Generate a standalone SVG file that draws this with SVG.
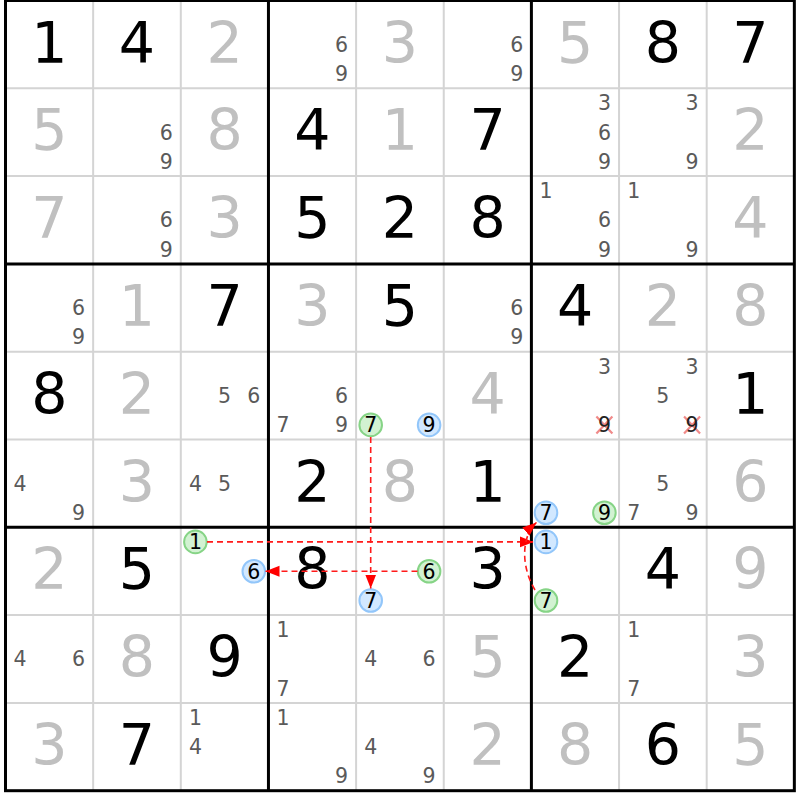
<svg xmlns="http://www.w3.org/2000/svg" width="800" height="800" viewBox="0 0 800 800">
<style>
.thin{stroke:#d4d4d4;stroke-width:2;fill:none}
.thick{stroke:#000;stroke-width:3;fill:none}
.big{font-family:"DejaVu Sans","Liberation Sans",sans-serif;font-size:57px;text-anchor:middle}
.given{fill:#000}
.solved{fill:#c0c0c0}
.cand{font-family:"DejaVu Sans","Liberation Sans",sans-serif;font-size:20.5px;text-anchor:middle;fill:#5a5a5a}
.mark{fill:#000}
.dark{fill:#222}
.cg{fill:#d2f2d2;stroke:#86d486;stroke-width:2}
.cb{fill:#d2e8ff;stroke:#92c6fa;stroke-width:2}
.x{stroke:#f08a8a;stroke-width:2.2}
.link{stroke:#ff1a1a;stroke-width:1.6;stroke-dasharray:6,4;fill:none;marker-end:url(#ah)}
</style>
<defs>
<marker id="ah" markerUnits="userSpaceOnUse" markerWidth="16" markerHeight="12" refX="14" refY="5.5" orient="auto">
<path d="M0,0 L14,5.5 L0,11 z" fill="#ff0000"/>
</marker>
</defs>
<rect x="0" y="0" width="800" height="800" fill="#fff"/>
<g id="grid">
<path class="thin" d="M93.15,0.5V790.7M180.8,0.5V790.7M356.1,0.5V790.7M443.75,0.5V790.7M619.05,0.5V790.7M706.7,0.5V790.7M5.5,88.3H794.35M5.5,176.1H794.35M5.5,351.7H794.35M5.5,439.5H794.35M5.5,615.1H794.35M5.5,702.9H794.35"/>
<path class="thick" d="M268.45,0.5V790.7M531.4,0.5V790.7M5.5,263.9H794.35M5.5,527.3H794.35"/>
<rect class="thick" x="5.5" y="0.5" width="788.85" height="790.2"/>
</g>
<g id="r0">
<g id="r0c0"><text class="big given" x="49.3" y="62.5">1</text></g>
<g id="r0c1"><text class="big given" x="137" y="62.5">4</text></g>
<g id="r0c2"><text class="big solved" x="224.6" y="62.5">2</text></g>
<g id="r0c3"><text class="cand" x="341.45" y="51.7">6</text><text class="cand" x="341.45" y="81">9</text></g>
<g id="r0c4"><text class="big solved" x="399.9" y="62.5">3</text></g>
<g id="r0c5"><text class="cand" x="516.75" y="51.7">6</text><text class="cand" x="516.75" y="81">9</text></g>
<g id="r0c6"><text class="big solved" x="575.2" y="62.5">5</text></g>
<g id="r0c7"><text class="big given" x="662.9" y="62.5">8</text></g>
<g id="r0c8"><text class="big given" x="750.5" y="62.5">7</text></g>
</g>
<g id="r1">
<g id="r1c0"><text class="big solved" x="49.3" y="150.3">5</text></g>
<g id="r1c1"><text class="cand" x="166.15" y="139.5">6</text><text class="cand" x="166.15" y="168.8">9</text></g>
<g id="r1c2"><text class="big solved" x="224.6" y="150.3">8</text></g>
<g id="r1c3"><text class="big given" x="312.3" y="150.3">4</text></g>
<g id="r1c4"><text class="big solved" x="399.9" y="150.3">1</text></g>
<g id="r1c5"><text class="big given" x="487.6" y="150.3">7</text></g>
<g id="r1c6"><text class="cand" x="604.4" y="110.2">3</text><text class="cand" x="604.4" y="139.5">6</text><text class="cand" x="604.4" y="168.8">9</text></g>
<g id="r1c7"><text class="cand" x="692.05" y="110.2">3</text><text class="cand" x="692.05" y="168.8">9</text></g>
<g id="r1c8"><text class="big solved" x="750.5" y="150.3">2</text></g>
</g>
<g id="r2">
<g id="r2c0"><text class="big solved" x="49.3" y="238.1">7</text></g>
<g id="r2c1"><text class="cand" x="166.15" y="227.3">6</text><text class="cand" x="166.15" y="256.6">9</text></g>
<g id="r2c2"><text class="big solved" x="224.6" y="238.1">3</text></g>
<g id="r2c3"><text class="big given" x="312.3" y="238.1">5</text></g>
<g id="r2c4"><text class="big given" x="399.9" y="238.1">2</text></g>
<g id="r2c5"><text class="big given" x="487.6" y="238.1">8</text></g>
<g id="r2c6"><text class="cand" x="546" y="198">1</text><text class="cand" x="604.4" y="227.3">6</text><text class="cand" x="604.4" y="256.6">9</text></g>
<g id="r2c7"><text class="cand" x="633.65" y="198">1</text><text class="cand" x="692.05" y="256.6">9</text></g>
<g id="r2c8"><text class="big solved" x="750.5" y="238.1">4</text></g>
</g>
<g id="r3">
<g id="r3c0"><text class="cand" x="78.5" y="315.1">6</text><text class="cand" x="78.5" y="344.4">9</text></g>
<g id="r3c1"><text class="big solved" x="137" y="325.9">1</text></g>
<g id="r3c2"><text class="big given" x="224.6" y="325.9">7</text></g>
<g id="r3c3"><text class="big solved" x="312.3" y="325.9">3</text></g>
<g id="r3c4"><text class="big given" x="399.9" y="325.9">5</text></g>
<g id="r3c5"><text class="cand" x="516.75" y="315.1">6</text><text class="cand" x="516.75" y="344.4">9</text></g>
<g id="r3c6"><text class="big given" x="575.2" y="325.9">4</text></g>
<g id="r3c7"><text class="big solved" x="662.9" y="325.9">2</text></g>
<g id="r3c8"><text class="big solved" x="750.5" y="325.9">8</text></g>
</g>
<g id="r4">
<g id="r4c0"><text class="big given" x="49.3" y="413.7">8</text></g>
<g id="r4c1"><text class="big solved" x="137" y="413.7">2</text></g>
<g id="r4c2"><text class="cand" x="224.6" y="402.9">5</text><text class="cand" x="253.8" y="402.9">6</text></g>
<g id="r4c3"><text class="cand" x="341.45" y="402.9">6</text><text class="cand" x="283.05" y="432.2">7</text><text class="cand" x="341.45" y="432.2">9</text></g>
<g id="r4c4"><circle class="cg" cx="370.7" cy="424.9" r="11.3"/><text class="cand mark" x="370.7" y="432.2">7</text><circle class="cb" cx="429.1" cy="424.9" r="11.3"/><text class="cand mark" x="429.1" y="432.2">9</text></g>
<g id="r4c5"><text class="big solved" x="487.6" y="413.7">4</text></g>
<g id="r4c6"><text class="cand" x="604.4" y="373.6">3</text><path class="x" d="M596.4,416.4L612.4,433.4M612.4,416.4L596.4,433.4"/><text class="cand dark" x="604.4" y="432.2">9</text></g>
<g id="r4c7"><text class="cand" x="692.05" y="373.6">3</text><text class="cand" x="662.85" y="402.9">5</text><path class="x" d="M684.05,416.4L700.05,433.4M700.05,416.4L684.05,433.4"/><text class="cand dark" x="692.05" y="432.2">9</text></g>
<g id="r4c8"><text class="big given" x="750.5" y="413.7">1</text></g>
</g>
<g id="r5">
<g id="r5c0"><text class="cand" x="20.1" y="490.7">4</text><text class="cand" x="78.5" y="520">9</text></g>
<g id="r5c1"><text class="big solved" x="137" y="501.5">3</text></g>
<g id="r5c2"><text class="cand" x="195.4" y="490.7">4</text><text class="cand" x="224.6" y="490.7">5</text></g>
<g id="r5c3"><text class="big given" x="312.3" y="501.5">2</text></g>
<g id="r5c4"><text class="big solved" x="399.9" y="501.5">8</text></g>
<g id="r5c5"><text class="big given" x="487.6" y="501.5">1</text></g>
<g id="r5c6"><circle class="cb" cx="546" cy="512.7" r="11.3"/><text class="cand mark" x="546" y="520">7</text><circle class="cg" cx="604.4" cy="512.7" r="11.3"/><text class="cand mark" x="604.4" y="520">9</text></g>
<g id="r5c7"><text class="cand" x="662.85" y="490.7">5</text><text class="cand" x="633.65" y="520">7</text><text class="cand" x="692.05" y="520">9</text></g>
<g id="r5c8"><text class="big solved" x="750.5" y="501.5">6</text></g>
</g>
<g id="r6">
<g id="r6c0"><text class="big solved" x="49.3" y="589.3">2</text></g>
<g id="r6c1"><text class="big given" x="137" y="589.3">5</text></g>
<g id="r6c2"><circle class="cg" cx="195.4" cy="541.9" r="11.3"/><text class="cand mark" x="195.4" y="549.2">1</text><circle class="cb" cx="253.8" cy="571.2" r="11.3"/><text class="cand mark" x="253.8" y="578.5">6</text></g>
<g id="r6c3"><text class="big given" x="312.3" y="589.3">8</text></g>
<g id="r6c4"><circle class="cg" cx="429.1" cy="571.2" r="11.3"/><text class="cand mark" x="429.1" y="578.5">6</text><circle class="cb" cx="370.7" cy="600.5" r="11.3"/><text class="cand mark" x="370.7" y="607.8">7</text></g>
<g id="r6c5"><text class="big given" x="487.6" y="589.3">3</text></g>
<g id="r6c6"><circle class="cb" cx="546" cy="541.9" r="11.3"/><text class="cand mark" x="546" y="549.2">1</text><circle class="cg" cx="546" cy="600.5" r="11.3"/><text class="cand mark" x="546" y="607.8">7</text></g>
<g id="r6c7"><text class="big given" x="662.9" y="589.3">4</text></g>
<g id="r6c8"><text class="big solved" x="750.5" y="589.3">9</text></g>
</g>
<g id="r7">
<g id="r7c0"><text class="cand" x="20.1" y="666.3">4</text><text class="cand" x="78.5" y="666.3">6</text></g>
<g id="r7c1"><text class="big solved" x="137" y="677.1">8</text></g>
<g id="r7c2"><text class="big given" x="224.6" y="677.1">9</text></g>
<g id="r7c3"><text class="cand" x="283.05" y="637">1</text><text class="cand" x="283.05" y="695.6">7</text></g>
<g id="r7c4"><text class="cand" x="370.7" y="666.3">4</text><text class="cand" x="429.1" y="666.3">6</text></g>
<g id="r7c5"><text class="big solved" x="487.6" y="677.1">5</text></g>
<g id="r7c6"><text class="big given" x="575.2" y="677.1">2</text></g>
<g id="r7c7"><text class="cand" x="633.65" y="637">1</text><text class="cand" x="633.65" y="695.6">7</text></g>
<g id="r7c8"><text class="big solved" x="750.5" y="677.1">3</text></g>
</g>
<g id="r8">
<g id="r8c0"><text class="big solved" x="49.3" y="764.9">3</text></g>
<g id="r8c1"><text class="big given" x="137" y="764.9">7</text></g>
<g id="r8c2"><text class="cand" x="195.4" y="724.8">1</text><text class="cand" x="195.4" y="754.1">4</text></g>
<g id="r8c3"><text class="cand" x="283.05" y="724.8">1</text><text class="cand" x="341.45" y="783.4">9</text></g>
<g id="r8c4"><text class="cand" x="370.7" y="754.1">4</text><text class="cand" x="429.1" y="783.4">9</text></g>
<g id="r8c5"><text class="big solved" x="487.6" y="764.9">2</text></g>
<g id="r8c6"><text class="big solved" x="575.2" y="764.9">8</text></g>
<g id="r8c7"><text class="big given" x="662.9" y="764.9">6</text></g>
<g id="r8c8"><text class="big solved" x="750.5" y="764.9">5</text></g>
</g>
<g id="connectors">
<path class="link" d="M370.7,437 L370.7,588.5"/>
<path class="link" d="M207,541.9 L533.5,541.9"/>
<path class="link" d="M417.5,571.2 L265.5,571.2"/>
<path class="link" d="M535,590 C520,565 522,535 536.5,522.5"/>
</g>
</svg>
